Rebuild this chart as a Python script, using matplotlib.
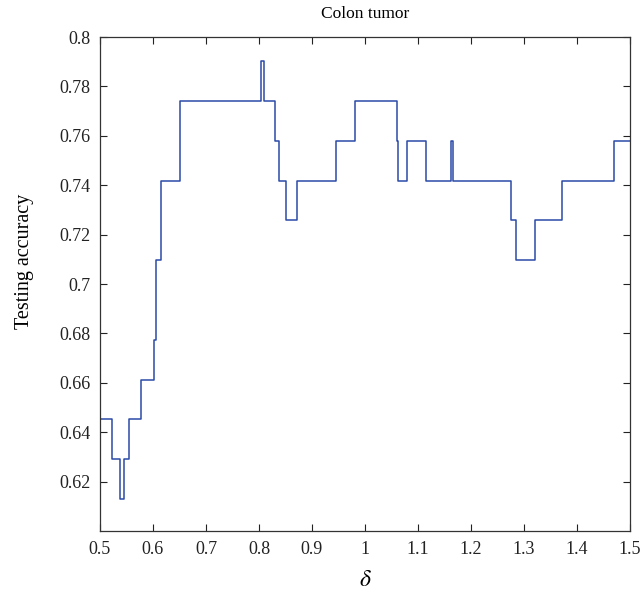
import matplotlib
matplotlib.use('agg')
import matplotlib.pyplot as plt
import numpy as np

# step start positions of delta and the testing accuracy held from each one
delta_edges = [0.5, 0.522, 0.538, 0.546, 0.554, 0.577, 0.6025, 0.6055, 0.6155,
               0.651, 0.803, 0.810, 0.830, 0.838, 0.851, 0.872, 0.945, 0.9805,
               1.0598, 1.063, 1.0786, 1.116, 1.1616, 1.166, 1.2755, 1.284,
               1.3214, 1.371, 1.470, 1.5]
accuracy = [0.6452, 0.6290, 0.6129, 0.6290, 0.6452, 0.6613, 0.6774, 0.7097, 0.7419,
            0.7742, 0.7903, 0.7742, 0.7581, 0.7419, 0.7258, 0.7419, 0.7581, 0.7742,
            0.7581, 0.7419, 0.7581, 0.7419, 0.7581, 0.7419, 0.7258, 0.7097,
            0.7258, 0.7419, 0.7581, 0.7581]

x_ticks = np.arange(0.5, 1.51, 0.1)
x_labels = ['0.5', '0.6', '0.7', '0.8', '0.9', '1', '1.1', '1.2', '1.3', '1.4', '1.5']
y_ticks = np.arange(0.62, 0.801, 0.02)
y_labels = ['0.62', '0.64', '0.66', '0.68', '0.7', '0.72', '0.74', '0.76', '0.78', '0.8']

plt.rcParams['font.family'] = ['Liberation Serif', 'DejaVu Serif']
plt.rcParams['mathtext.fontset'] = 'stix'

fig = plt.figure(figsize=(6.43, 5.94), dpi=100)
ax = fig.add_axes([0.1555, 0.106, 0.8243, 0.8317])

ax.step(delta_edges, accuracy, where='post', color='#2b4aa8', linewidth=1.1)

ax.set_xlim(0.5, 1.5)
ax.set_ylim(0.6, 0.8)
ax.set_xticks(x_ticks)
ax.set_xticklabels(x_labels)
ax.set_yticks(y_ticks)
ax.set_yticklabels(y_labels)
ax.tick_params(direction='in', top=True, right=True, length=5, width=0.8,
               labelsize=13, pad=7, colors='#222222')
for s in ax.spines.values():
    s.set_color('#333333')
    s.set_linewidth(0.9)

ax.set_title('Colon tumor', fontsize=12.5, pad=14)
ax.set_xlabel(r'$\delta$', fontsize=17, labelpad=9)
ax.set_ylabel('Testing accuracy', fontsize=14.5)
ax.yaxis.set_label_coords(-0.124, 0.545)

fig.savefig('out.png', dpi=100)
